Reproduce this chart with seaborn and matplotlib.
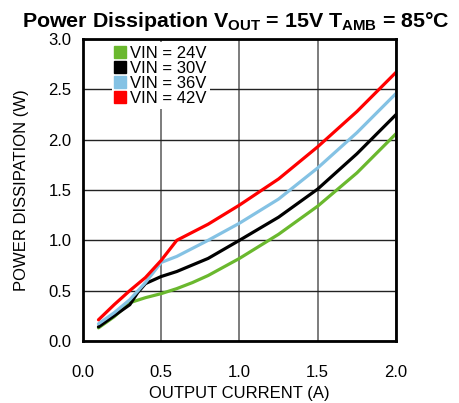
import matplotlib
matplotlib.use("Agg")
import matplotlib.pyplot as plt
import seaborn as sns
import pandas as pd
from matplotlib.lines import Line2D

# Data
x_24 = [0.1, 0.2, 0.3, 0.4, 0.5, 0.6, 0.7, 0.8, 1.0, 1.25, 1.5, 1.75, 2.0]
y_24 = [0.13, 0.24, 0.38, 0.43, 0.47, 0.52, 0.58, 0.65, 0.82, 1.06, 1.34, 1.67, 2.06]
x_30 = [0.1, 0.2, 0.3, 0.35, 0.4, 0.5, 0.6, 0.8, 1.0, 1.25, 1.5, 1.75, 2.0]
y_30 = [0.14, 0.25, 0.36, 0.48, 0.57, 0.64, 0.69, 0.82, 1.0, 1.23, 1.51, 1.86, 2.25]
x_36 = [0.1, 0.2, 0.3, 0.4, 0.5, 0.6, 0.8, 1.0, 1.25, 1.5, 1.75, 2.0]
y_36 = [0.17, 0.28, 0.41, 0.58, 0.78, 0.84, 1.0, 1.17, 1.41, 1.72, 2.07, 2.46]
x_42 = [0.1, 0.2, 0.3, 0.4, 0.5, 0.6, 0.8, 1.0, 1.25, 1.5, 1.75, 2.0]
y_42 = [0.21, 0.36, 0.50, 0.63, 0.80, 1.0, 1.16, 1.35, 1.61, 1.93, 2.28, 2.67]

labels = ["VIN = 24V", "VIN = 30V", "VIN = 36V", "VIN = 42V"]
colors = ["#6ab82e", "#000000", "#84c2e4", "#ff0000"]
x_ticks = [0.0, 0.5, 1.0, 1.5, 2.0]
y_ticks = [0.0, 0.5, 1.0, 1.5, 2.0, 2.5, 3.0]

frames = []
for lab, xs, ys in zip(labels, [x_24, x_30, x_36, x_42], [y_24, y_30, y_36, y_42]):
    frames.append(pd.DataFrame({"x": xs, "y": ys, "series": lab}))
df = pd.concat(frames, ignore_index=True)

sns.set_style("white")
plt.rcParams["font.family"] = ["Liberation Sans", "DejaVu Sans"]
plt.rcParams["mathtext.fontset"] = "custom"
plt.rcParams["mathtext.rm"] = "Liberation Sans"
plt.rcParams["mathtext.bf"] = "Liberation Sans:bold"
plt.rcParams["text.color"] = "black"
plt.rcParams["axes.labelcolor"] = "black"
plt.rcParams["xtick.color"] = "black"
plt.rcParams["ytick.color"] = "black"

fig = plt.figure(figsize=(4.6, 4.03), dpi=100)
ax = fig.add_axes([0.180, 0.154, 0.681, 0.749])

sns.lineplot(data=df, x="x", y="y", hue="series", hue_order=labels,
             palette=colors, linewidth=2.3, ax=ax, legend=False,
             estimator=None, sort=False)

ax.set_xlim(0, 2.0)
ax.set_ylim(0, 3.0)
ax.set_xticks(x_ticks)
ax.set_yticks(y_ticks)
ax.set_xticklabels([f"{v:.1f}" for v in x_ticks])
ax.set_yticklabels([f"{v:.1f}" for v in y_ticks])
ax.tick_params(axis="both", length=0, labelsize=12, labelcolor="black")
ax.tick_params(axis="x", pad=17)
ax.tick_params(axis="y", pad=8)
ax.grid(True, axis="y", color="#222222", linewidth=1.0)
ax.grid(True, axis="x", color="#666666", linewidth=1.2)
ax.set_axisbelow(True)
for s in ax.spines.values():
    s.set_visible(True)
    s.set_color("black")
    s.set_linewidth(2.0)

ax.set_xlabel("OUTPUT CURRENT (A)", fontsize=12, labelpad=5)
ax.set_ylabel("POWER DISSIPATION (W)", fontsize=12, labelpad=14)
ax.set_title(r"Power Dissipation V$_{\mathbf{OUT}}$ = 15V T$_{\mathbf{AMB}}$ = 85°C",
             fontsize=15.4, fontweight="bold", pad=9, x=0.487, color="black")

handles = [Line2D([0], [0], marker="s", linestyle="none", markersize=8,
                  markerfacecolor=c, markeredgecolor=c) for c in colors]
leg = ax.legend(handles, labels, loc="upper left", bbox_to_anchor=(0.083, 1.0),
                frameon=True, fontsize=12, handlelength=0.6, handletextpad=0.3,
                labelspacing=0.0, borderpad=0.2, borderaxespad=0.2)
leg.get_frame().set_edgecolor("white")
leg.get_frame().set_facecolor("white")
leg.get_frame().set_alpha(1.0)
leg.get_frame().set_linewidth(0)

fig.savefig("out.png", dpi=100)
